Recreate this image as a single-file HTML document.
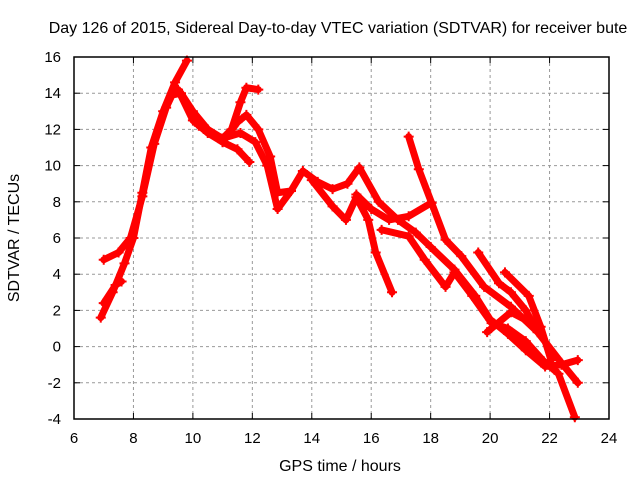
<!DOCTYPE html>
<html><head><meta charset="utf-8"><style>
body{margin:0;background:#fff}
svg{display:block;font-family:"Liberation Sans",sans-serif}
</style></head><body>
<svg id="chart" width="640" height="480">
<text x="338" y="33" font-size="16" text-anchor="middle">Day 126 of 2015, Sidereal Day-to-day VTEC variation (SDTVAR) for receiver bute</text>
<text x="340" y="471" font-size="16" text-anchor="middle">GPS time / hours</text>
<text transform="translate(19,238) rotate(-90)" font-size="16" text-anchor="middle">SDTVAR / TECUs</text>
<g id="grid"></g><g id="series"></g><g id="axes"></g>
</svg>
<script>
const xTicks=[6,8,10,12,14,16,18,20,22,24];
const yTicks=[-4,-2,0,2,4,6,8,10,12,14,16];
const trackA=[[6.9,1.6],[7.3,3],[7.7,4.6],[8.0,6],[8.3,8.5],[8.6,11],[9.0,13],[9.4,14.6],[9.8,15.8]];
const trackB=[[7.0,4.8],[7.5,5.2],[7.9,6],[8.3,8.3],[8.7,11.2],[9.1,13.2],[9.3,13.9],[9.6,14.0],[10.0,13.0],[10.5,12.0],[11.0,11.5],[11.3,12],[11.6,13.5],[11.8,14.3],[12.2,14.2]];
const trackC=[[7.0,2.4],[7.4,3.4],[7.6,3.6]];
const trackD=[[9.5,14.2],[10.0,12.5],[10.5,11.8],[11.0,11.3],[11.5,12.4],[11.8,12.8],[12.2,12],[12.6,10.5],[12.85,8.5],[13.3,8.6],[13.7,9.7],[14.2,9.1],[14.7,8.7],[15.2,9.0],[15.6,9.9],[16.25,8.0],[16.9,7.0],[17.5,6.3],[18.0,5.5],[18.8,4.25],[19.5,2.8],[20.0,1.5],[20.6,0.7],[21.2,-0.2],[21.85,-1.1],[22.4,-1.0],[22.95,-0.75]];
const trackE=[[10.2,12.2],[11.0,11.3],[11.5,10.9],[11.9,10.2]];
const trackF=[[11.0,11.5],[11.6,11.8],[12.1,11.3],[12.5,10],[12.85,7.6],[13.3,8.6]];
const trackG=[[14.0,9.2],[14.7,7.75],[15.15,7.0],[15.5,8.25],[15.9,7.0],[16.15,5.2],[16.7,3.0]];
const trackH=[[15.5,8.4],[16.0,7.6],[16.6,7.0],[17.26,7.2],[18.03,7.95]];
const trackI=[[17.26,11.6],[17.6,9.8],[18.03,7.95],[18.5,5.9],[19.03,5.0],[19.8,3.3],[20.7,2.2],[21.6,0.8],[22.4,-0.9],[22.95,-2.0]];
const trackJ=[[16.35,6.45],[17.26,6.1],[17.8,4.8],[18.5,3.3],[18.8,4.1],[19.4,2.8],[20.05,1.3],[20.6,1.0],[21.2,0.3],[21.8,-0.8],[22.3,-1.5],[22.85,-3.9]];
const trackK=[[19.6,5.2],[20.3,3.5],[20.7,3.0],[21.2,2.0],[21.6,0.8]];
const trackL=[[20.5,4.1],[21.3,2.8],[21.7,1.1],[22.05,-0.75]];
const trackM=[[19.9,0.8],[20.7,1.9],[21.4,1.3]];
const tracks=[trackA,trackB,trackC,trackD,trackE,trackF,trackG,trackH,trackI,trackJ,trackK,trackL,trackM];
const L=74,R=609,T=57,B=419;
const xs=v=>L+(v-6)/18*(R-L);
const ys=v=>B-(v+4)/20*(B-T);
const NS="http://www.w3.org/2000/svg";
function mk(tag,attrs,parent){const e=document.createElementNS(NS,tag);for(const k in attrs)e.setAttribute(k,attrs[k]);parent.appendChild(e);return e;}
const grid=document.getElementById('grid'),axes=document.getElementById('axes'),ser=document.getElementById('series');
xTicks.forEach(t=>{const x=xs(t);
 if(t>6&&t<24){const g=mk('line',{x1:x,x2:x,y1:T,y2:B,stroke:'#999','stroke-dasharray':'3,3'},grid);
 
 }
 mk('line',{x1:x,x2:x,y1:B,y2:B-6,stroke:'#000'},axes);
 mk('line',{x1:x,x2:x,y1:T,y2:T+6,stroke:'#000'},axes);
 const tx=mk('text',{x:x,y:B+24,'font-size':15,'text-anchor':'middle'},axes);tx.textContent=t;
 
 
});
yTicks.forEach(t=>{const y=ys(t);
 if(t>-4&&t<16){const g=mk('line',{x1:L,x2:R,y1:y,y2:y,stroke:'#999','stroke-dasharray':'3,3'},grid);
 
 }
 mk('line',{x1:L,x2:L+6,y1:y,y2:y,stroke:'#000'},axes);
 mk('line',{x1:R,x2:R-6,y1:y,y2:y,stroke:'#000'},axes);
 const tx=mk('text',{x:L-13,y:y+5,'font-size':15,'text-anchor':'end'},axes);tx.textContent=t;
 
 
});
const box=mk('rect',{x:L,y:T,width:R-L,height:B-T,fill:'none',stroke:'#000','stroke-width':1.5},axes);


tracks.forEach((tr,i)=>{
 const p=mk('polyline',{points:tr.map(d=>xs(d[0])+','+ys(d[1])).join(' '),fill:'none',stroke:'#f00','stroke-width':7,'stroke-linejoin':'round','stroke-linecap':'round'},ser);
 
 
 tr.forEach(d=>{const x=xs(d[0]),y=ys(d[1]);
  const m=mk('path',{d:`M${x-5},${y}h10M${x},${y-5}v10`,stroke:'#f00','stroke-width':2},ser);
  
  
 });
});
</script>
</body></html>
